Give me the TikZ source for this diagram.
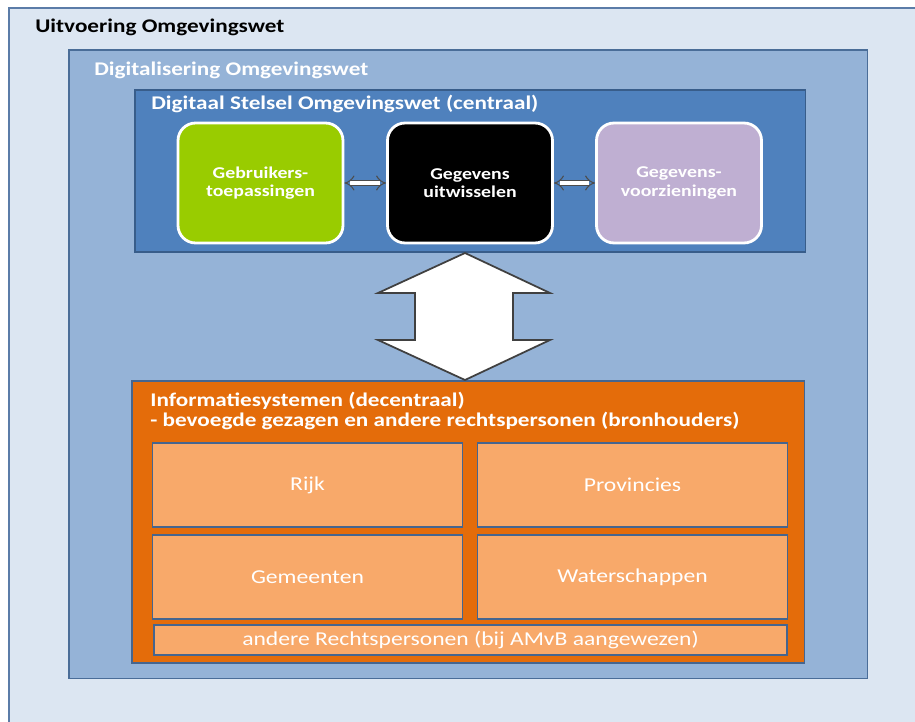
\documentclass[tikz,border=0pt]{standalone}
\usepackage{fontspec}
\setmainfont[FakeStretch=1.2]{Carlito}
\usetikzlibrary{arrows.meta}

\definecolor{outerfill}{HTML}{DCE6F2}
\definecolor{outerline}{HTML}{5B7CA8}
\definecolor{digifill}{HTML}{95B3D7}
\definecolor{digiline}{HTML}{4A6D98}
\definecolor{stelselfill}{HTML}{4F81BD}
\definecolor{stelselline}{HTML}{385D8A}
\definecolor{infofill}{HTML}{E46C0A}
\definecolor{cellfill}{HTML}{F8A96A}
\definecolor{cellline}{HTML}{45658F}
\definecolor{tilegreen}{HTML}{99CC00}
\definecolor{tilepurple}{HTML}{BFAFD2}

\tikzset{
  panel/.style={anchor=north west,inner sep=0pt,line width=0.9pt},
  heading/.style={anchor=west,inner sep=0pt,font=\bfseries\fontsize{11}{11.4}\selectfont,text=white},
  tile/.style={draw=white,line width=1.6pt,rounded corners=10pt,minimum width=33mm,minimum height=24mm,
    text=white,font=\bfseries\fontsize{9.4}{10.4}\selectfont,align=center},
  cell/.style={draw=cellline,line width=1pt,fill=cellfill,text=white,font=\fontsize{11.2}{12}\selectfont,
    minimum width=62mm,minimum height=16.8mm},
  dblarrow/.style={draw=black!70,double=white,double distance=2.4pt,line width=0.6pt,{Implies}-{Implies}}
}

\begin{document}
\begin{tikzpicture}[x=0.02cm,y=-0.02cm]
    \useasboundingbox (0,0) rectangle (915,722);
    \clip (0,0) rectangle (915,722);

    % nested panels
    \node[panel,draw=outerline,fill=outerfill,minimum width=184mm,minimum height=146mm] (uitv) at (8,7) {};
    \node[panel,draw=digiline,fill=digifill,minimum width=159.8mm,minimum height=125.8mm] (digi) at (68,49) {};
    \node[panel,draw=stelselline,fill=stelselfill,minimum width=134.2mm,minimum height=32.4mm] (stelsel) at (134,89) {};
    \node[panel,draw=cellline,fill=infofill,minimum width=134.6mm,minimum height=56.4mm] (info) at (131,380) {};

    \node[heading,text=black] (uitvT) at (35,27) {Uitvoering Omgevingswet};
    \node[heading] (digiT) at (94,70) {Digitalisering Omgevingswet};
    \node[heading] (stelselT) at (151,104) {Digitaal Stelsel Omgevingswet (centraal)};
    \node[heading,align=left] (infoT) at (150,411) {Informatiesystemen (decentraal)\\- bevoegde gezagen en andere rechtspersonen (bronhouders)};

    % centraal
    \node[tile,fill=tilegreen] (gebr) at (260.5,183) {Gebruikers-\\toepassingen};
    \node[tile,fill=black] (uitw) at (470,183) {Gegevens\\uitwisselen};
    \node[tile,fill=tilepurple] (voorz) at (679,183) {Gegevens-\\voorzieningen};
    \draw[dblarrow] (gebr) -- (uitw);
    \draw[dblarrow] (uitw) -- (voorz);

    \draw[fill=white,draw=black!75,line width=1pt]
      (465,253) -- (550,293) -- (513,293) -- (513,340) -- (550,340) -- (465,380)
      -- (378,340) -- (415,340) -- (415,293) -- (378,293) -- cycle;

    % decentraal
    \node[cell] (rijk) at (307.5,485) {Rijk};
    \node[cell] (prov) at (632.5,485) {Provincies};
    \node[cell] (gem) at (307.5,577) {Gemeenten};
    \node[cell] (water) at (632.5,577) {Waterschappen};
    \node[cell,minimum width=126.6mm,minimum height=5.6mm] (andere) at (470.5,640) {andere Rechtspersonen (bij AMvB aangewezen)};
\end{tikzpicture}
\end{document}
